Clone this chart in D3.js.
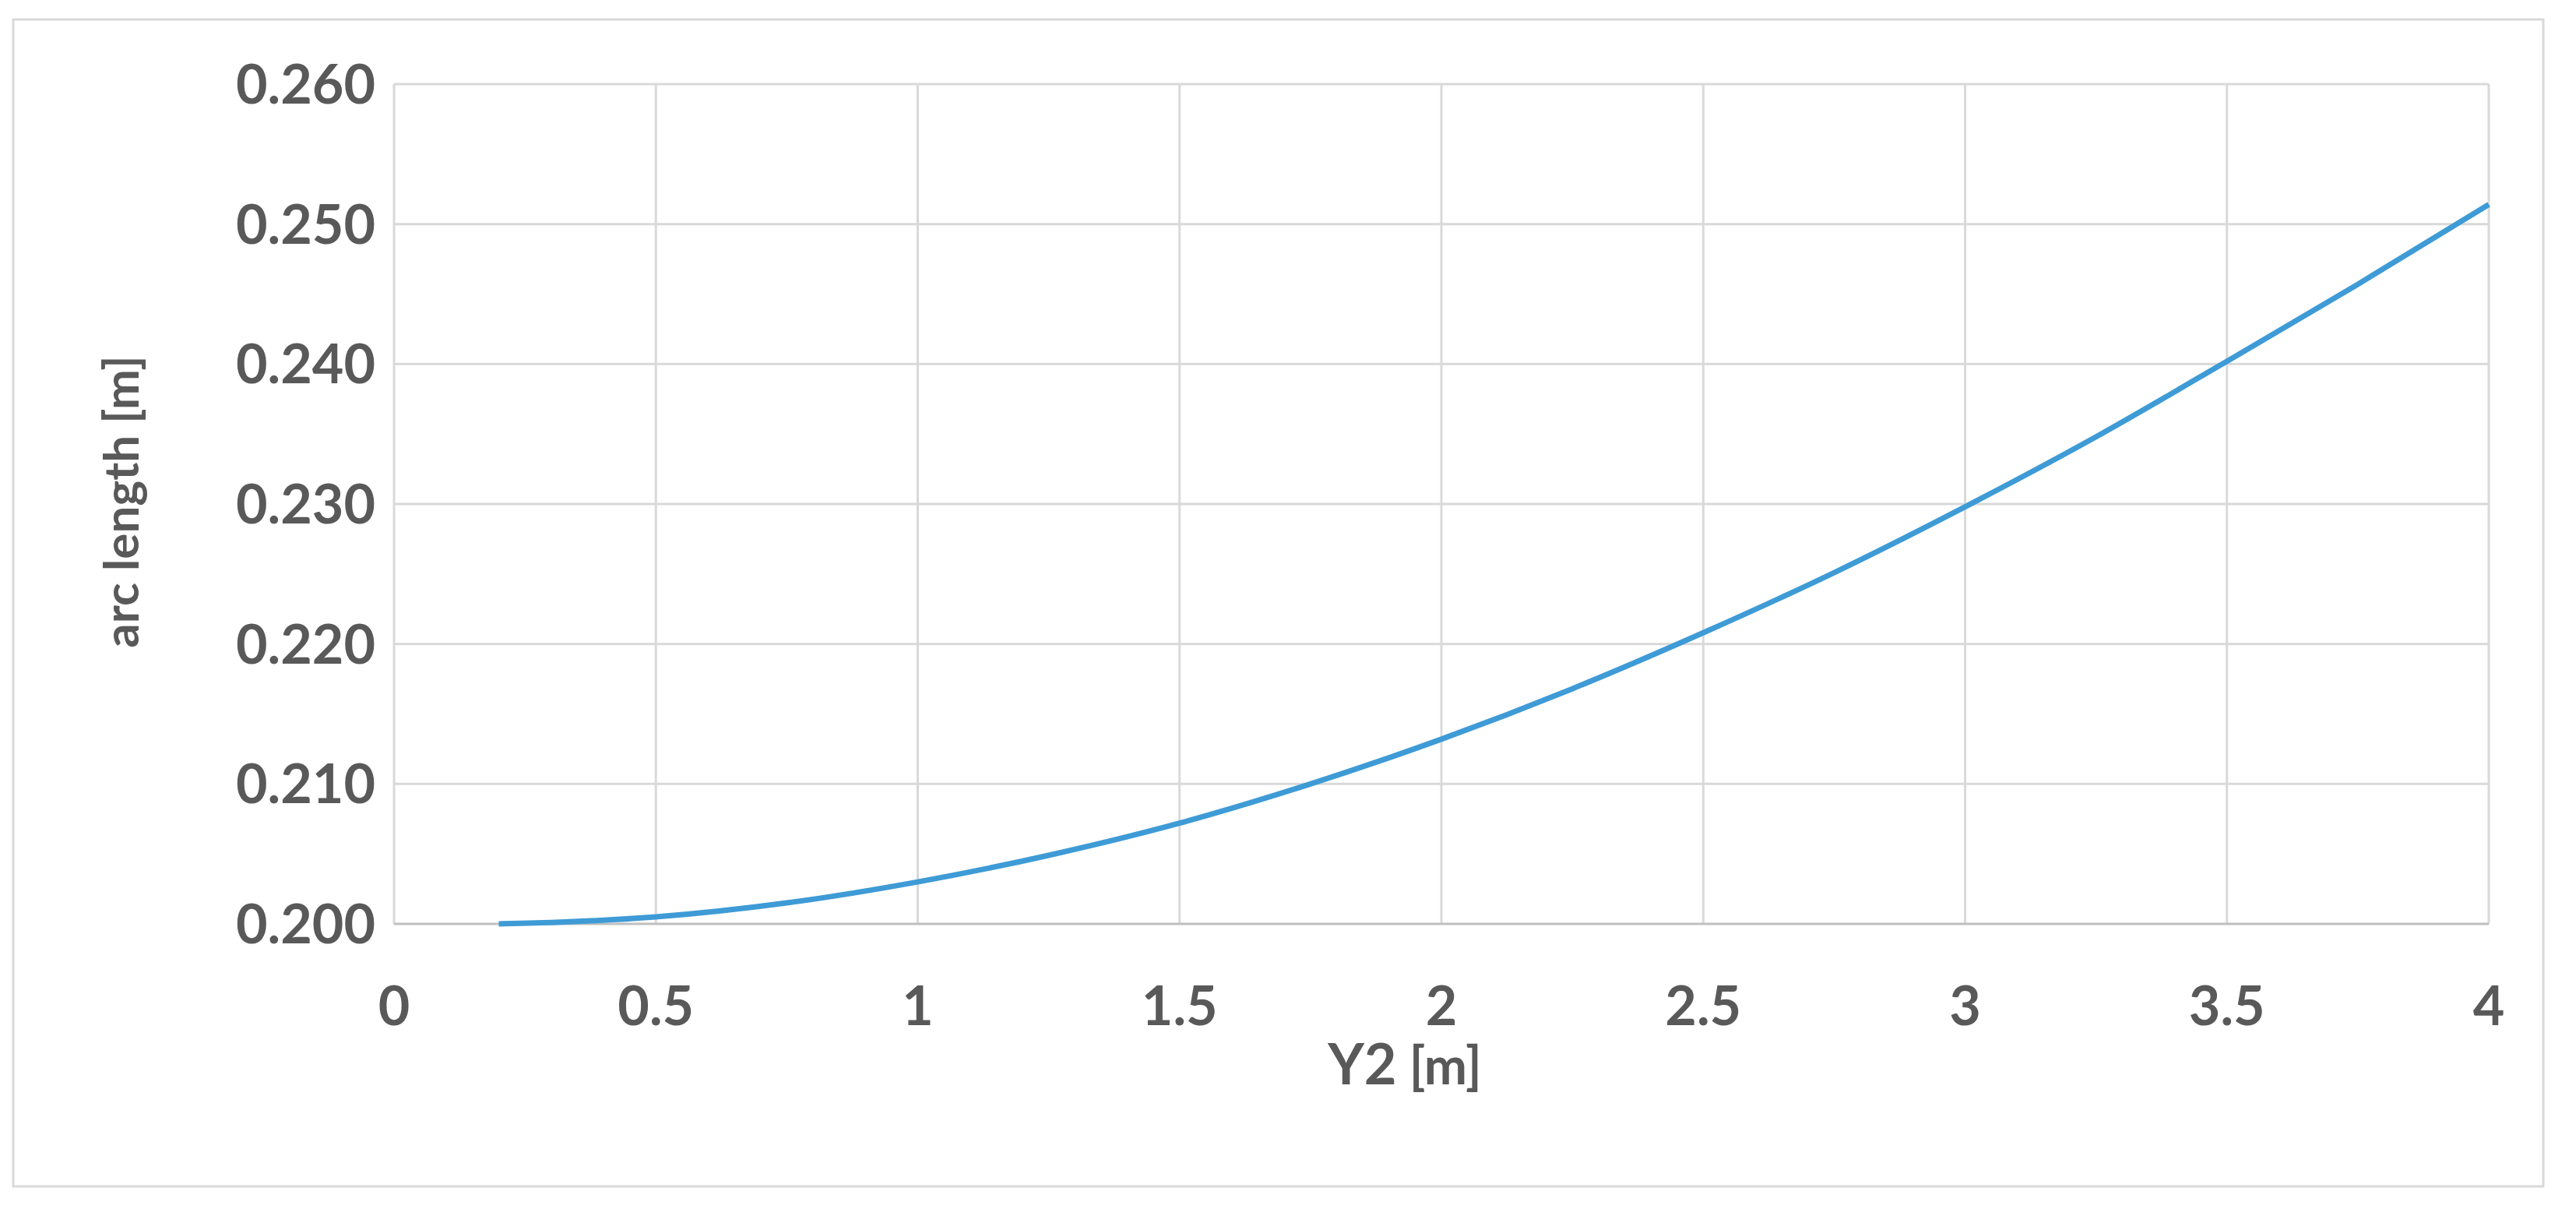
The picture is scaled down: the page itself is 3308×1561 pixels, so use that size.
<!DOCTYPE html>
<html><head><meta charset="utf-8">
<script src="https://cdn.jsdelivr.net/npm/d3@7"></script>
<style>body{margin:0;background:#fff}svg{display:block}</style>
</head><body><svg width="3308" height="1561"></svg>
<script>
// values
var xVals = [0.2, 0.3, 0.5, 0.75, 1, 1.25, 1.5, 1.75, 2, 2.25, 2.5, 2.75, 3, 3.25, 3.5, 3.75, 4];
var yVals = [0.2000, 0.2001, 0.2005, 0.2015, 0.2030, 0.2049, 0.2072, 0.2100, 0.2132, 0.2168, 0.2208, 0.2251, 0.2298, 0.2348, 0.2402, 0.2457, 0.2514];
var xTicks = [0, 0.5, 1, 1.5, 2, 2.5, 3, 3.5, 4];
var yTicks = [0.200, 0.210, 0.220, 0.230, 0.240, 0.250, 0.260];

var svg = d3.select("svg");
var L = 506, R = 3196, T = 108, B = 1186;
var font = "Lato, 'Open Sans', sans-serif";

svg.append("rect").attr("x", 17).attr("y", 25).attr("width", 3249).attr("height", 1498)
	.style("fill", "#fff").style("stroke", "#d9d9d9").style("stroke-width", 3);

var x = d3.scaleLinear().domain([0, 4]).range([L, R]);
var y = d3.scaleLinear().domain([0.2, 0.26]).range([B, T]);

// grid
svg.selectAll("line.vg").data(xTicks).enter().append("line")
	.attr("x1", function(d){ return x(d) }).attr("x2", function(d){ return x(d) })
	.attr("y1", T).attr("y2", B).style("stroke", "#d9d9d9").style("stroke-width", 3);
svg.selectAll("line.hg").data(yTicks).enter().append("line")
	.attr("x1", L).attr("x2", R)
	.attr("y1", function(d){ return y(d) }).attr("y2", function(d){ return y(d) })
	.style("stroke", function(d){ return d == 0.2 ? "#bfbfbf" : "#d9d9d9" }).style("stroke-width", 3);

svg.selectAll("text.xt").data(xTicks).enter().append("text")
	.attr("x", function(d){ return x(d) }).attr("y", 1316)
	.attr("text-anchor", "middle").style("font-family", font).style("font-weight", "bold")
	.style("font-size", "70px").style("fill", "#595959").text(function(d){ return d });
svg.selectAll("text.yt").data(yTicks).enter().append("text")
	.attr("x", 482).attr("y", function(d){ return y(d) + 25 })
	.attr("text-anchor", "end").style("font-family", font).style("font-weight", "bold")
	.style("font-size", "70px").style("fill", "#595959").text(function(d){ return d3.format(".3f")(d) });

var xt = svg.append("text").attr("x", 1804).attr("y", 1392).attr("text-anchor", "middle")
	.style("font-family", font).style("fill", "#595959").style("font-size", "66px");
xt.append("tspan").style("font-weight", "bold").style("font-size", "72px").text("Y2");
xt.append("tspan").style("font-weight", "bold").text(" [m]");

svg.append("text").attr("transform", "translate(178,644) rotate(-90)").attr("text-anchor", "middle")
	.style("font-family", font).style("font-weight", "bold").style("font-size", "62px")
	.style("fill", "#595959").text("arc length [m]");

var pts = xVals.map(function(d, i){ return [d, yVals[i]] });
svg.append("path").datum(pts)
	.attr("d", d3.line().x(function(d){ return x(d[0]) }).y(function(d){ return y(d[1]) }).curve(d3.curveMonotoneX))
	.style("fill", "none").style("stroke", "#3e9bd6").style("stroke-width", 7);
</script></body></html>
